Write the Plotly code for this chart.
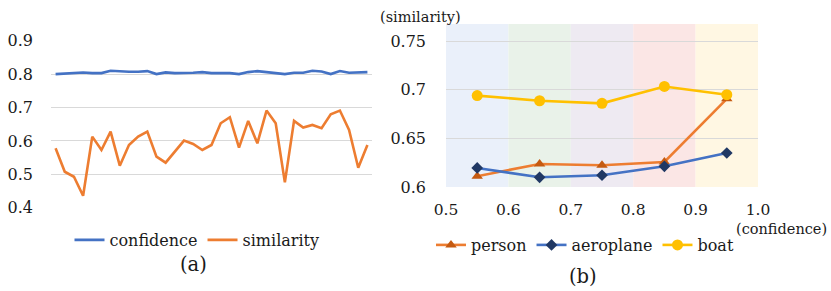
import plotly.graph_objects as go

# ---------- data: panel (a) ----------
sample_idx = list(range(1, 36))
confidence = [0.800, 0.802, 0.803, 0.805, 0.803, 0.803, 0.810, 0.808, 0.807, 0.807,
              0.809, 0.800, 0.805, 0.803, 0.803, 0.804, 0.806, 0.803, 0.803, 0.803,
              0.800, 0.806, 0.809, 0.806, 0.803, 0.800, 0.804, 0.804, 0.810, 0.808,
              0.800, 0.809, 0.804, 0.806, 0.806]
similarity = [0.578, 0.508, 0.493, 0.436, 0.613, 0.573, 0.628, 0.526, 0.588, 0.613,
              0.628, 0.553, 0.535, 0.568, 0.601, 0.591, 0.573, 0.588, 0.653, 0.671,
              0.580, 0.660, 0.593, 0.691, 0.653, 0.476, 0.660, 0.640, 0.648, 0.638,
              0.680, 0.691, 0.633, 0.520, 0.588]

# ---------- data: panel (b) ----------
conf_bins = [0.55, 0.65, 0.75, 0.85, 0.95]
person = [0.611, 0.6236, 0.6223, 0.6257, 0.6907]
aeroplane = [0.6195, 0.6099, 0.612, 0.6212, 0.6349]
boat = [0.694, 0.6887, 0.686, 0.7034, 0.6949]
band_edges = [0.5, 0.6, 0.7, 0.8, 0.9, 1.0]
band_colors = ["#EAF0FA", "#E9F2E9", "#EEEAF2", "#FBE6E5", "#FFF7E3"]
left_yticks = [0.4, 0.5, 0.6, 0.7, 0.8, 0.9]
left_yticktext = ["0.4", "0.5", "0.6", "0.7", "0.8", "0.9"]
right_yticks = [0.6, 0.65, 0.7, 0.75]
right_yticktext = ["0.6", "0.65", "0.7", "0.75"]
right_xticks = [0.5, 0.6, 0.7, 0.8, 0.9, 1.0]
right_xticktext = ["0.5", "0.6", "0.7", "0.8", "0.9", "1.0"]

FONT = "DejaVu Serif"
TXT = "#1a1a1a"
GRID = "#D9D9D9"

fig = go.Figure()

fig.add_trace(go.Scatter(x=sample_idx, y=confidence, mode="lines", name="confidence",
                         line=dict(color="#4472C4", width=2.6), xaxis="x", yaxis="y",
                         legend="legend"))
fig.add_trace(go.Scatter(x=sample_idx, y=similarity, mode="lines", name="similarity",
                         line=dict(color="#ED7D31", width=2.6), xaxis="x", yaxis="y",
                         legend="legend"))

fig.add_trace(go.Scatter(x=conf_bins, y=person, mode="lines+markers", name="person",
                         line=dict(color="#ED7D31", width=2.6),
                         marker=dict(symbol="triangle-up", size=10, color="#C55A11"),
                         xaxis="x2", yaxis="y2", legend="legend2"))
fig.add_trace(go.Scatter(x=conf_bins, y=aeroplane, mode="lines+markers", name="aeroplane",
                         line=dict(color="#4472C4", width=2.6),
                         marker=dict(symbol="diamond", size=9, color="#203864"),
                         xaxis="x2", yaxis="y2", legend="legend2"))
fig.add_trace(go.Scatter(x=conf_bins, y=boat, mode="lines+markers", name="boat",
                         line=dict(color="#FFC000", width=2.6),
                         marker=dict(symbol="circle", size=11, color="#FFC000"),
                         xaxis="x2", yaxis="y2", legend="legend2"))

shapes = []
for i, c in enumerate(band_colors):
    shapes.append(dict(type="rect", xref="x2", yref="y2", x0=band_edges[i], x1=band_edges[i + 1],
                       y0=0.6, y1=0.7677, fillcolor=c, line=dict(width=0), layer="below"))


def note(text, x, y, size):
    return dict(text=text, x=x / 831, y=1 - y / 291, xref="paper", yref="paper",
                xanchor="center", yanchor="middle", showarrow=False,
                font=dict(size=size, family=FONT, color=TXT))


fig.update_layout(
    width=831, height=291,
    margin=dict(l=0, r=0, t=0, b=0, autoexpand=False),
    paper_bgcolor="white", plot_bgcolor="white",
    font=dict(family=FONT, size=16, color=TXT),
    shapes=shapes,
    xaxis=dict(domain=[51 / 831, 372 / 831], range=[0.5, 35.5], showticklabels=False,
               showgrid=False, zeroline=False, showline=False, ticks="", automargin=False),
    yaxis=dict(domain=[1 - 208 / 291, 1 - 40.5 / 291], range=[0.3995, 0.9005],
               tickvals=left_yticks, ticktext=left_yticktext, automargin=False,
               showgrid=True, gridcolor=GRID, gridwidth=1.3, zeroline=False,
               ticklabelstandoff=17, tickfont=dict(size=16, family=FONT, color=TXT)),
    xaxis2=dict(domain=[446 / 831, 758 / 831], range=[0.5, 1.0], anchor="y2", automargin=False,
                tickvals=right_xticks, ticktext=right_xticktext,
                showgrid=False, zeroline=False, showline=False, ticks="",
                ticklabelstandoff=11, tickfont=dict(size=15.5, family=FONT, color=TXT)),
    yaxis2=dict(domain=[1 - 187.3 / 291, 1 - 24 / 291], range=[0.5996, 0.7677], anchor="x2",
                tickvals=right_yticks, ticktext=right_yticktext, automargin=False,
                showgrid=True, gridcolor=GRID, gridwidth=1.3, zeroline=False,
                ticklabelstandoff=19, tickfont=dict(size=16, family=FONT, color=TXT)),
    legend=dict(orientation="h", x=197 / 831, y=1 - 240 / 291, xanchor="center", yanchor="middle",
                font=dict(size=16, family=FONT, color=TXT), itemwidth=30,
                bgcolor="rgba(0,0,0,0)", tracegroupgap=0),
    legend2=dict(orientation="h", x=585 / 831, y=1 - 245 / 291, xanchor="center", yanchor="middle",
                 font=dict(size=16, family=FONT, color=TXT), itemwidth=30,
                 bgcolor="rgba(0,0,0,0)"),
    annotations=[
        note("(similarity)", 420, 17, 14.5),
        note("(confidence)", 781, 229, 14.5),
        note("(a)", 193, 264, 19.5),
        note("(b)", 583, 276, 19.5),
    ],
)

fig.write_html("out.html", post_script="document.body.style.margin='0';",
               config={"displayModeBar": False})
